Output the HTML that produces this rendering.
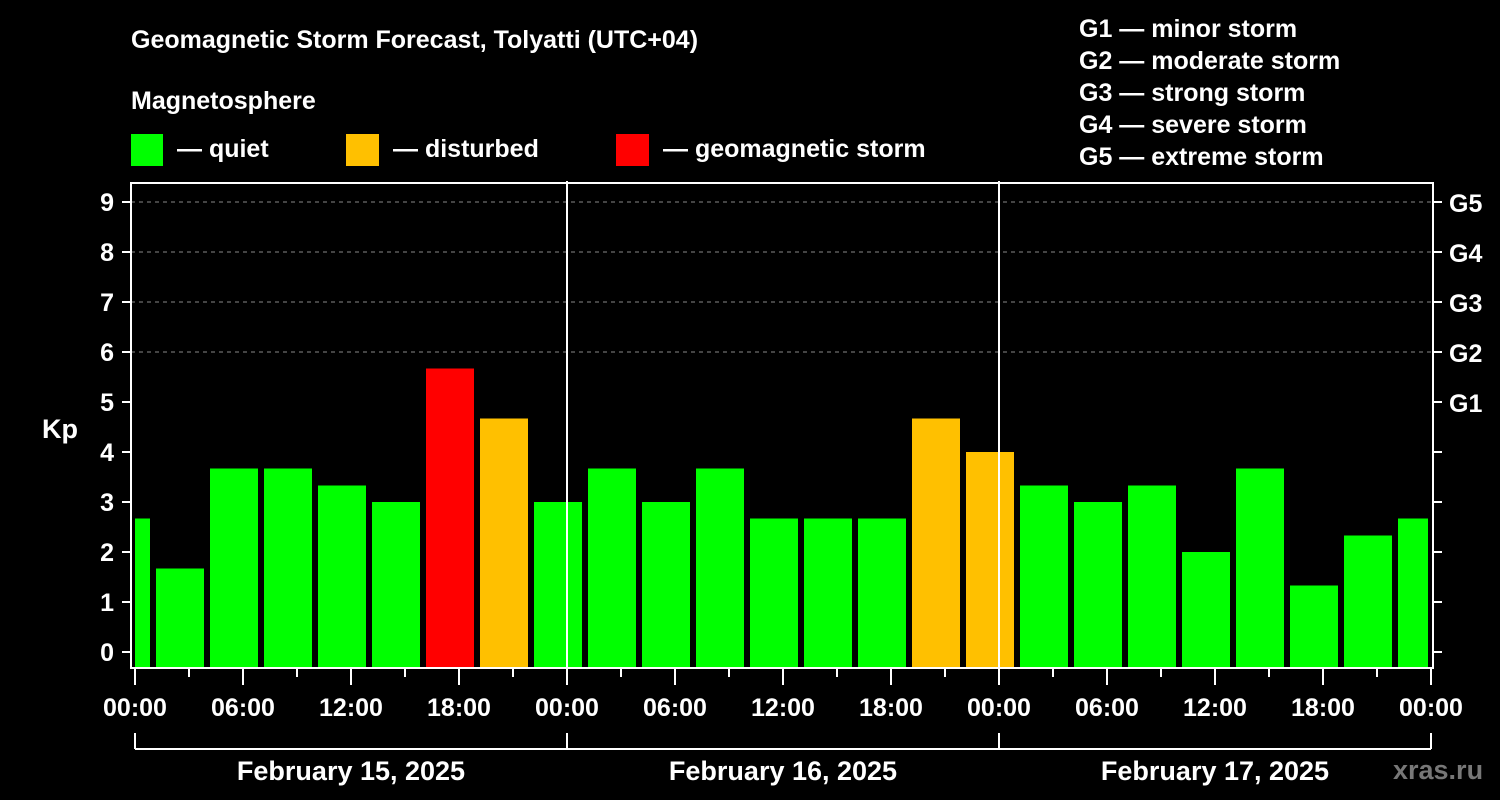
<!DOCTYPE html>
<html><head><meta charset="utf-8"><style>
html,body{margin:0;background:#000;width:1500px;height:800px;overflow:hidden}
svg{font-family:"Liberation Sans",Arial,sans-serif;font-weight:bold}
</style></head><body>
<svg id="c" width="1500" height="800">
<text x="131" y="48" fill="#fff" font-size="25">Geomagnetic Storm Forecast, Tolyatti (UTC+04)</text>
<text x="131" y="109" fill="#fff" font-size="25">Magnetosphere</text>
<g><rect x="131" y="134" width="32" height="32" fill="#00ff00"/><text x="177" y="157" fill="#fff" font-size="25">— quiet</text></g>
<g><rect x="346" y="134" width="33" height="32" fill="#ffc000"/><text x="393" y="157" fill="#fff" font-size="25">— disturbed</text></g>
<g><rect x="616" y="134" width="33" height="32" fill="#ff0000"/><text x="663" y="157" fill="#fff" font-size="25">— geomagnetic storm</text></g>
<g fill="#fff" font-size="25">
<text x="1079" y="37">G1 — minor storm</text><text x="1079" y="69">G2 — moderate storm</text><text x="1079" y="101">G3 — strong storm</text><text x="1079" y="133">G4 — severe storm</text><text x="1079" y="165">G5 — extreme storm</text></g>
<text x="42" y="438" fill="#fff" font-size="27">Kp</text>
<text x="1393" y="779" fill="#777" font-size="27">xras.ru</text>
<defs><clipPath id="pc"><rect x="135" y="183" width="1293" height="486"/></clipPath></defs>
<g id="grid"></g><g id="bars" clip-path="url(#pc)"></g><g id="axes"></g>
</svg>
<script>
const kpValues=[2.67,1.67,3.67,3.67,3.33,3.0,5.67,4.67,3.0,3.67,3.0,3.67,2.67,2.67,2.67,4.67,4.0,3.33,3.0,3.33,2.0,3.67,1.33,2.33,2.67];
const yTicks=[0,1,2,3,4,5,6,7,8,9];
const gLabels=["G1","G2","G3","G4","G5"];
const xTickLabels=["00:00","06:00","12:00","18:00","00:00","06:00","12:00","18:00","00:00","06:00","12:00","18:00","00:00"];
const dateLabels=["February 15, 2025","February 16, 2025","February 17, 2025"];
const NS="http://www.w3.org/2000/svg";
const x0=135,pxH=18,firstCenterH=-0.5;
const X=h=>x0+h*pxH, Y=k=>652-50*k;
function mk(p,tag,at,txt){const e=document.createElementNS(NS,tag);for(const k in at)e.setAttribute(k,at[k]);if(txt!=null)e.textContent=txt;p.appendChild(e);return e;}
const grid=document.getElementById('grid'),bars=document.getElementById('bars'),axes=document.getElementById('axes');
[6,7,8,9].forEach(k=>{const l=mk(grid,'line',{x1:131,x2:1433,y1:Y(k),y2:Y(k),stroke:'#888','stroke-dasharray':'4,4','stroke-width':1});

});
kpValues.forEach((v,i)=>{const c=X(firstCenterH+3*i);const col=v>=5?'#ff0000':(v>=4?'#ffc000':'#00ff00');
const r=mk(bars,'rect',{x:c-24,y:Y(v),width:48,height:668-Y(v),fill:col});

});
[1,2].forEach(d=>{const l=mk(axes,'line',{x1:X(24*d),x2:X(24*d),y1:181,y2:668,stroke:'#fff','stroke-width':2});

});
const fr=mk(axes,'rect',{x:131,y:183,width:1302,height:485,fill:'none',stroke:'#fff','stroke-width':2});


yTicks.forEach(k=>{mk(axes,'line',{x1:122,x2:131,y1:Y(k),y2:Y(k),stroke:'#fff','stroke-width':2});
mk(axes,'line',{x1:1433,x2:1442,y1:Y(k),y2:Y(k),stroke:'#fff','stroke-width':2});
const t=mk(axes,'text',{x:114,y:Y(k)+9,fill:'#fff','font-size':25,'text-anchor':'end'},String(k));

});
gLabels.forEach((g,i)=>{const t=mk(axes,'text',{x:1449,y:Y(5+i)+10,fill:'#fff','font-size':25},g);

});
for(let h=0;h<=72;h+=3){mk(axes,'line',{x1:X(h),x2:X(h),y1:668,y2:h%6?677:685,stroke:'#fff','stroke-width':2});}
xTickLabels.forEach((s,i)=>{const t=mk(axes,'text',{x:X(6*i),y:716,fill:'#fff','font-size':25,'text-anchor':'middle'},s);

});
mk(axes,'line',{x1:X(0),x2:X(72),y1:749,y2:749,stroke:'#fff','stroke-width':2});
for(let d=0;d<=3;d++)mk(axes,'line',{x1:X(24*d),x2:X(24*d),y1:733,y2:749,stroke:'#fff','stroke-width':2});
dateLabels.forEach((s,i)=>{const t=mk(axes,'text',{x:X(24*i+12),y:780,fill:'#fff','font-size':27,'text-anchor':'middle'},s);

});
</script>
</body></html>
